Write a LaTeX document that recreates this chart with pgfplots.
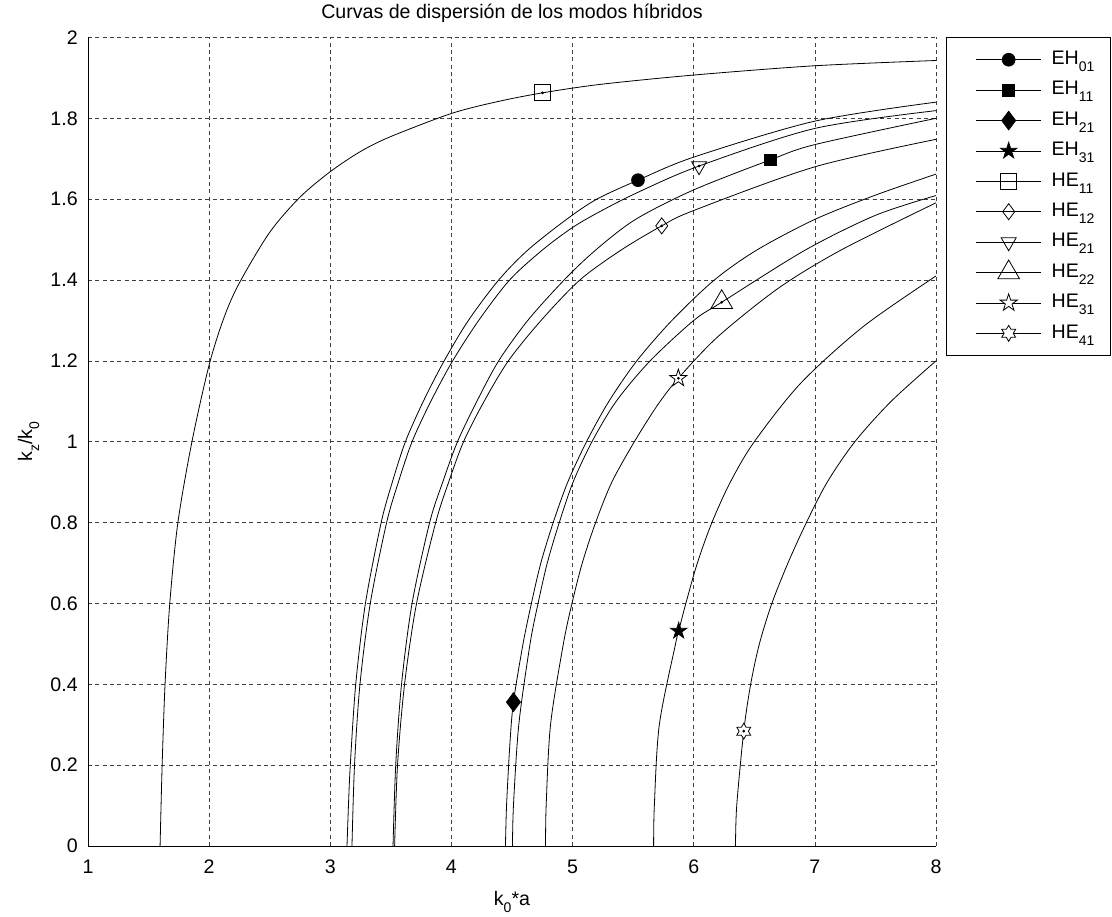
\documentclass[border=0pt]{standalone}
\usepackage{fontspec}
\setmainfont{Liberation Sans}
\usepackage{pgfplots}
\pgfplotsset{compat=1.18}
\usetikzlibrary{plotmarks}
\newcommand\fs{\fontsize{14.7}{17}\selectfont}
\newcommand\sub[1]{\raisebox{-0.36em}{\fontsize{10.5}{12}\selectfont #1}}
\pgfdeclareplotmark{pentagram}{%
  \pgfpathmoveto{\pgfpointpolar{90}{\pgfplotmarksize}}%
  \pgfpathlineto{\pgfpointpolar{126}{0.382*\pgfplotmarksize}}%
  \pgfpathlineto{\pgfpointpolar{162}{\pgfplotmarksize}}%
  \pgfpathlineto{\pgfpointpolar{198}{0.382*\pgfplotmarksize}}%
  \pgfpathlineto{\pgfpointpolar{234}{\pgfplotmarksize}}%
  \pgfpathlineto{\pgfpointpolar{270}{0.382*\pgfplotmarksize}}%
  \pgfpathlineto{\pgfpointpolar{306}{\pgfplotmarksize}}%
  \pgfpathlineto{\pgfpointpolar{342}{0.382*\pgfplotmarksize}}%
  \pgfpathlineto{\pgfpointpolar{18}{\pgfplotmarksize}}%
  \pgfpathlineto{\pgfpointpolar{54}{0.382*\pgfplotmarksize}}%
  \pgfpathclose\pgfusepathqfillstroke}
\pgfdeclareplotmark{hexagram}{%
  \pgfpathmoveto{\pgfpointpolar{90}{\pgfplotmarksize}}%
  \pgfpathlineto{\pgfpointpolar{120}{0.577*\pgfplotmarksize}}%
  \pgfpathlineto{\pgfpointpolar{150}{\pgfplotmarksize}}%
  \pgfpathlineto{\pgfpointpolar{180}{0.577*\pgfplotmarksize}}%
  \pgfpathlineto{\pgfpointpolar{210}{\pgfplotmarksize}}%
  \pgfpathlineto{\pgfpointpolar{240}{0.577*\pgfplotmarksize}}%
  \pgfpathlineto{\pgfpointpolar{270}{\pgfplotmarksize}}%
  \pgfpathlineto{\pgfpointpolar{300}{0.577*\pgfplotmarksize}}%
  \pgfpathlineto{\pgfpointpolar{330}{\pgfplotmarksize}}%
  \pgfpathlineto{\pgfpointpolar{0}{0.577*\pgfplotmarksize}}%
  \pgfpathlineto{\pgfpointpolar{30}{\pgfplotmarksize}}%
  \pgfpathlineto{\pgfpointpolar{60}{0.577*\pgfplotmarksize}}%
  \pgfpathclose\pgfusepathqfillstroke}
\begin{document}
\begin{tikzpicture}
\begin{axis}[
 at={(0,0)}, anchor=south west,
 width=636pt, height=606.4pt, scale only axis,
 xmin=1, xmax=8, ymin=0, ymax=2,
 xtick={1,2,3,4,5,6,7,8},
 xticklabels={1,2,3,4,5,6,7,8},
 ytick={0,0.2,0.4,0.6,0.8,1,1.2,1.4,1.6,1.8,2},
 yticklabels={0,0.2,0.4,0.6,0.8,1,1.2,1.4,1.6,1.8,2},
 axis lines*=left,
 axis line style={black, line width=0.6pt},
 grid=major,
 major grid style={black!75, line width=0.5pt, dash pattern=on 3pt off 2.5pt},
 major tick length=0pt,
 tick label style={font=\fs},
 /pgf/number format/assume math mode=true,
 xticklabel style={anchor=base, yshift=-20.25pt, inner sep=0pt},
 yticklabel style={anchor=east, xshift=-7.5pt, inner sep=0pt},
 title={Curvas de dispersión de los modos híbridos},
 title style={at={(axis description cs:0.5,1.0136)}, anchor=base, font=\fs, inner sep=0pt},
 xlabel={k\sub{0}*a},
 xlabel style={at={(axis description cs:0.5,-0.073)}, anchor=base, font=\fs, inner sep=0pt},
 ylabel={k\sub{z}/k\sub{0}},
 ylabel style={at={(axis description cs:-0.066,0.5)}, anchor=base, font=\fs, inner sep=0pt},
 legend style={at={(axis description cs:1.0118,1.0)}, anchor=north west, draw=black, line width=0.6pt, fill=white, font=\fs, inner xsep=12pt, inner ysep=5pt, row sep=0pt, column sep=7.5pt, nodes={inner sep=0pt, text height=15pt, text depth=7.8pt}},
 legend cell align=left,
 legend image code/.code={\path (-10pt,0pt); \draw[mark repeat=2,mark phase=2,#1,mark indices={2}] plot coordinates {(0pt,0pt)(24.4pt,0pt)(48.8pt,0pt)};},
 every axis plot/.append style={black, line width=0.6pt},
]
% EH01
\addplot[smooth, mark=*, mark size=4.8pt, mark indices={16}, mark options={solid, fill=black}] coordinates {
(3.138,0) (3.150,0.1) (3.165,0.2) (3.210,0.4) (3.290,0.6) (3.420,0.8) (3.512,0.9) (3.620,1.0) (3.768,1.1) (3.940,1.2) (4.140,1.3) (4.390,1.4) (4.630,1.474) (4.950,1.55) (5.200,1.60) (5.540,1.647) (6,1.704) (7,1.793) (8,1.840)};
\addlegendentry{EH\sub{01}}
% EH11
\addplot[smooth, mark=square*, mark size=4.4pt, mark indices={15}, mark options={solid, fill=black}] coordinates {
(3.518,0) (3.540,0.2) (3.588,0.4) (3.675,0.6) (3.820,0.8) (3.928,0.9) (4.050,1.0) (4.210,1.1) (4.390,1.2) (4.630,1.3) (4.930,1.4) (5.190,1.474) (5.520,1.55) (6,1.623) (6.631,1.697) (7,1.735) (8,1.800)};
\addlegendentry{EH\sub{11}}
% EH21
\addplot[smooth, mark=diamond*, mark size=7pt, mark indices={4}, mark options={solid, fill=black}] coordinates {
(4.446,0) (4.455,0.1) (4.482,0.25) (4.512,0.356) (4.591,0.5) (4.660,0.6) (4.738,0.7) (4.840,0.8) (4.960,0.9) (5.115,1.0) (5.300,1.1) (5.530,1.2) (5.820,1.3) (6.170,1.4) (6.520,1.474) (7.0,1.55) (7.5,1.61) (8,1.662)};
\addlegendentry{EH\sub{21}}
% EH31
\addplot[smooth, mark=pentagram, mark size=6.4pt, mark indices={5}, mark options={solid, fill=black}] coordinates {
(5.669,0) (5.675,0.1) (5.716,0.3) (5.850,0.5) (5.876,0.532) (5.935,0.6) (6.030,0.7) (6.150,0.8) (6.302,0.9) (6.500,1.0) (6.884,1.145) (7.4,1.285) (8,1.41)};
\addlegendentry{EH\sub{31}}
% HE11
\addplot[smooth, mark=square, mark size=6pt, mark indices={17}, mark options={solid, fill=white}] coordinates {
(1.595,0) (1.612,0.2) (1.636,0.4) (1.675,0.6) (1.742,0.8) (1.858,1.0) (2.0,1.19) (2.125,1.309) (2.25,1.393) (2.5,1.518) (2.75,1.605) (3.0,1.668) (3.25,1.718) (3.5,1.755) (4.0,1.812) (4.376,1.841) (4.752,1.863) (5.231,1.884) (6,1.907) (7,1.930) (8,1.943)};
\addlegendentry{HE\sub{11}}
% HE12
\addplot[smooth, mark=diamond, mark size=6pt, mark indices={13}, mark options={solid, fill=white}] coordinates {
(3.531,0) (3.555,0.2) (3.613,0.4) (3.712,0.6) (3.870,0.8) (3.977,0.9) (4.100,1.0) (4.270,1.1) (4.470,1.2) (4.740,1.3) (5.060,1.4) (5.400,1.474) (5.736,1.534) (6,1.572) (7,1.680) (8,1.748)};
\addlegendentry{HE\sub{12}}
% HE21
\addplot[smooth, mark=triangle, mark size=6.5pt, mark indices={16}, mark options={solid, fill=white, rotate=180}] coordinates {
(3.179,0) (3.200,0.2) (3.245,0.4) (3.330,0.6) (3.465,0.8) (3.562,0.9) (3.675,1.0) (3.830,1.1) (4.010,1.2) (4.225,1.3) (4.480,1.4) (4.750,1.474) (5.000,1.53) (5.230,1.57) (5.540,1.617) (6.044,1.682) (7,1.775) (8,1.819)};
\addlegendentry{HE\sub{21}}
% HE22
\addplot[smooth, mark=triangle, mark size=9.4pt, mark indices={13}, mark options={solid, fill=white}] coordinates {
(4.504,0) (4.512,0.1) (4.556,0.3) (4.649,0.5) (4.715,0.6) (4.791,0.7) (4.890,0.8) (5.004,0.9) (5.160,1.0) (5.360,1.1) (5.640,1.2) (6.000,1.3) (6.231,1.345) (6.920,1.474) (7.5,1.56) (8,1.609)};
\addlegendentry{HE\sub{22}}
% HE31
\addplot[smooth, mark=pentagram, mark size=6.8pt, mark indices={11}, mark options={solid, fill=white}] coordinates {
(4.777,0) (4.782,0.1) (4.818,0.3) (4.924,0.5) (4.995,0.6) (5.080,0.7) (5.190,0.8) (5.324,0.9) (5.510,1.0) (5.700,1.09) (5.873,1.157) (6.2,1.26) (6.7,1.38) (7.215,1.474) (8,1.591)};
\addlegendentry{HE\sub{31}}
% HE41
\addplot[smooth, mark=hexagram, mark size=6pt, mark indices={3}, mark options={solid, fill=white}] coordinates {
(6.345,0) (6.355,0.1) (6.413,0.284) (6.470,0.4) (6.542,0.5) (6.645,0.6) (6.778,0.7) (6.930,0.8) (7.102,0.9) (7.330,1.0) (7.630,1.1) (8,1.2)};
\addlegendentry{HE\sub{41}}
% centre dots of open markers
\addplot[only marks, mark=*, mark size=0.7pt, forget plot] coordinates {
(4.752,1.863) (5.736,1.534) (6.044,1.682) (6.231,1.345) (5.873,1.157) (6.413,0.284)};
\end{axis}
\pgfresetboundingbox
\path (-66pt,-52.5pt) rectangle (768pt,634.5pt);
\end{tikzpicture}
\end{document}
